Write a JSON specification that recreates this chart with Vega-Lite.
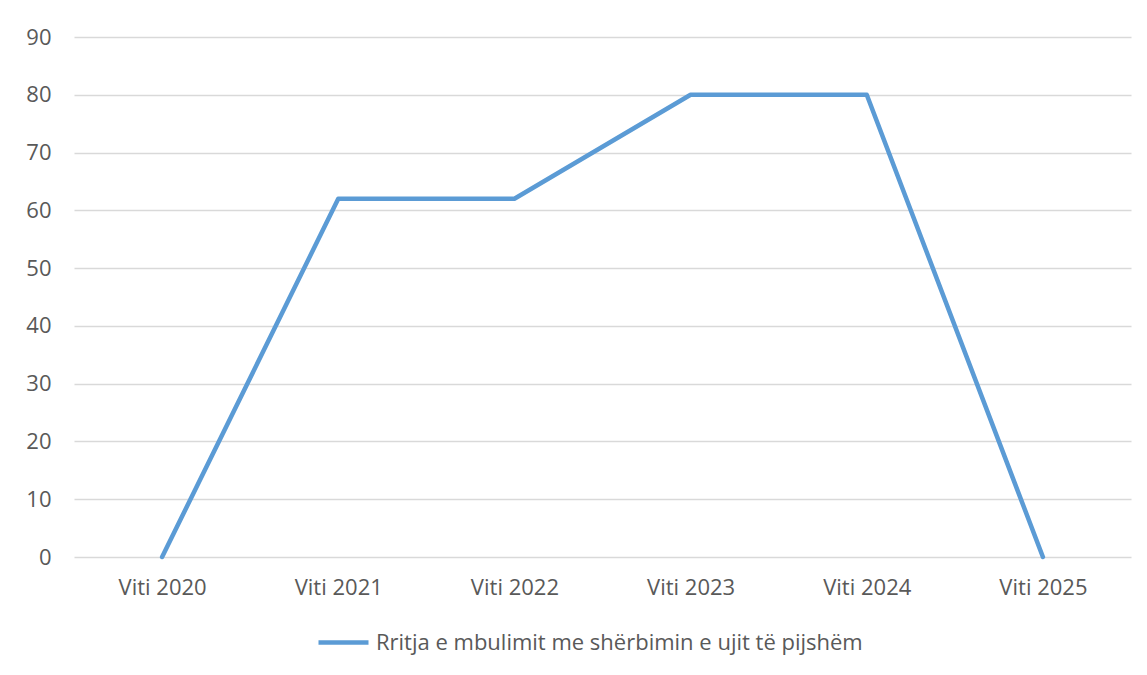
{
  "$schema": "https://vega.github.io/schema/vega-lite/v6.json",
  "width": 1057,
  "height": 520,
  "autosize": {"type": "none"},
  "padding": {"left": 74, "top": 37, "right": 16, "bottom": 118},
  "background": "white",
  "config": {
    "view": {"stroke": null},
    "font": "Open Sans",
    "axis": {"labelColor": "#595959", "labelFont": "Open Sans", "labelFontSize": 22, "gridColor": "#d9d9d9", "gridWidth": 1.3, "domain": false, "ticks": false, "title": null}
  },
  "data": {
    "values": [
      {"year": "Viti 2020", "value": 0, "series": "Rritja e mbulimit me shërbimin e ujit të pijshëm"},
      {"year": "Viti 2021", "value": 62, "series": "Rritja e mbulimit me shërbimin e ujit të pijshëm"},
      {"year": "Viti 2022", "value": 62, "series": "Rritja e mbulimit me shërbimin e ujit të pijshëm"},
      {"year": "Viti 2023", "value": 80, "series": "Rritja e mbulimit me shërbimin e ujit të pijshëm"},
      {"year": "Viti 2024", "value": 80, "series": "Rritja e mbulimit me shërbimin e ujit të pijshëm"},
      {"year": "Viti 2025", "value": 0, "series": "Rritja e mbulimit me shërbimin e ujit të pijshëm"}
    ]
  },
  "mark": {"type": "line", "strokeWidth": 4.5, "strokeCap": "round", "strokeJoin": "round"},
  "encoding": {
    "x": {
      "field": "year", "type": "ordinal", "sort": null,
      "scale": {"type": "point", "padding": 0.5},
      "axis": {"labelAngle": 0, "labelPadding": 20, "grid": false}
    },
    "y": {
      "field": "value", "type": "quantitative",
      "scale": {"domain": [0, 90], "nice": false},
      "axis": {"values": [0, 10, 20, 30, 40, 50, 60, 70, 80, 90], "labelPadding": 23, "grid": true}
    },
    "color": {
      "field": "series", "type": "nominal",
      "scale": {"range": ["#5b9bd5"]},
      "legend": {
        "orient": "none", "legendX": 242, "legendY": 578, "title": null,
        "symbolType": "stroke", "symbolSize": 2500, "symbolStrokeWidth": 4.5,
        "labelFontSize": 22, "labelColor": "#595959", "labelFont": "Open Sans", "labelOffset": 5, "labelLimit": 1000
      }
    }
  }
}
